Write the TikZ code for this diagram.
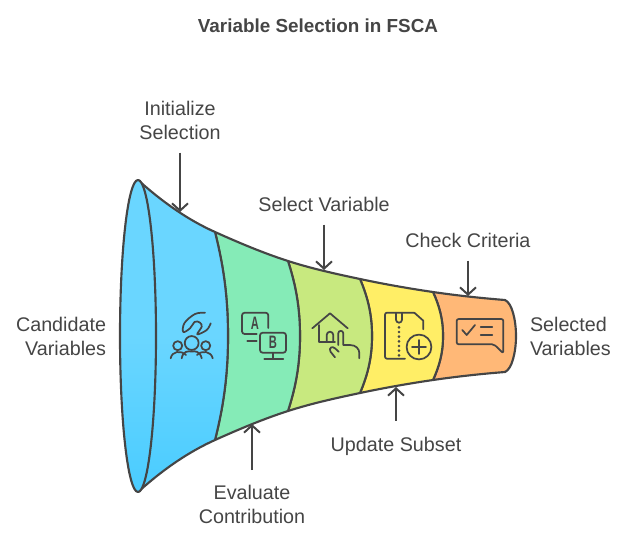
\documentclass[tikz,border=0pt]{standalone}
\usepackage{fontspec}
\setmainfont{Liberation Sans}
\usetikzlibrary{arrows.meta}
\definecolor{ink}{HTML}{454545}
\definecolor{blueA}{HTML}{6AD6FF}
\definecolor{blueB}{HTML}{4ACCFF}
\definecolor{segB}{HTML}{85EBB7}
\definecolor{segC}{HTML}{C8E97F}
\definecolor{segD}{HTML}{FFEE66}
\definecolor{segE}{HTML}{FFB877}
\tikzset{
  seg/.style={draw=ink,line width=1.6pt,line join=round},
  lab/.style={text=ink,font=\fontsize{14.8pt}{18pt}\selectfont,inner sep=0pt,outer sep=0pt},
  ttl/.style={text=ink,font=\fontsize{14.15pt}{18pt}\selectfont\bfseries,inner sep=0pt},
  con/.style={draw=ink,line width=1.5pt,-{Straight Barb[length=5.5pt,width=12pt,line width=1.5pt]}},
  ico/.style={draw=ink,line width=1.3pt,line cap=round,line join=round},
  glyph/.style={text=ink,font=\fontsize{13.5pt}{13.5pt}\selectfont\bfseries,inner sep=0pt}
}
\begin{document}
\begin{tikzpicture}[x=0.75pt,y=-0.75pt]
\useasboundingbox (0,0) rectangle (636,540);
% funnel, right to left
\path[seg,fill=segE] (433,292) .. controls (457,295.5) and (481,298.1) .. (505,300)
  .. controls (512,303) and (516,320) .. (516,336)
  .. controls (516,352) and (512,369) .. (505,372)
  .. controls (481,373.9) and (457,376.5) .. (433,380)
  .. controls (439,366.8) and (443,353.6) .. (443,336)
  .. controls (443,318.4) and (439,305.2) .. (433,292) -- cycle;
\path[seg,fill=segD] (360,279) .. controls (384,284.1) and (409,288.5) .. (433,292)
  .. controls (439,305.2) and (443,318.4) .. (443,336)
  .. controls (443,353.6) and (439,366.8) .. (433,380)
  .. controls (409,383.5) and (384,387.9) .. (360,393)
  .. controls (367.2,375.9) and (372,358.8) .. (372,336)
  .. controls (372,313.2) and (367.2,296.1) .. (360,279) -- cycle;
\path[seg,fill=segC] (288,261) .. controls (312,268.7) and (336,273.9) .. (360,279)
  .. controls (367.2,296.1) and (372,313.2) .. (372,336)
  .. controls (372,358.8) and (367.2,375.9) .. (360,393)
  .. controls (336,398.1) and (312,403.3) .. (288,411)
  .. controls (295.2,388.5) and (300,366) .. (300,336)
  .. controls (300,306) and (295.2,283.5) .. (288,261) -- cycle;
\path[seg,fill=segB] (215,232) .. controls (239,242.8) and (264,253.3) .. (288,261)
  .. controls (295.2,283.5) and (300,306) .. (300,336)
  .. controls (300,366) and (295.2,388.5) .. (288,411)
  .. controls (264,418.7) and (239,429.2) .. (215,440)
  .. controls (222.8,408.8) and (228,377.6) .. (228,336)
  .. controls (228,294.4) and (222.8,263.2) .. (215,232) -- cycle;
\path[seg,top color=blueA,bottom color=blueB,middle color=blueA] (138,180)
  .. controls (164,203.4) and (189,220.3) .. (215,232)
  .. controls (222.8,263.2) and (228,294.4) .. (228,336)
  .. controls (228,377.6) and (222.8,408.8) .. (215,440)
  .. controls (189,451.7) and (164,468.6) .. (138,492) -- cycle;
\path[seg,top color=blueA,bottom color=blueB,middle color=blueA] (138,336) ellipse [x radius=18,y radius=156];
% labels
\node[ttl] (title) at (318,25.5) {Variable Selection in FSCA};
\node[lab,align=center] (init) at (180,120) {Initialize\\Selection};
\node[lab] (selvar) at (324,204) {Select Variable};
\node[lab] (check) at (468,240) {Check Criteria};
\node[lab] (update) at (396,446) {Update Subset};
\node[lab,align=center] (eval) at (252,504) {Evaluate\\Contribution};
\node[lab,align=right,anchor=east] (cand) at (106,336) {Candidate\\Variables};
\node[lab,align=left,anchor=west] (sel) at (530,336) {Selected\\Variables};
% connector ends on the funnel
\coordinate (tipA) at (180,212);
\coordinate (tipB) at (324,270);
\coordinate (tipC) at (468,296);
\coordinate (tipD) at (396,387);
\coordinate (tipE) at (252,424);
\draw[con,shorten <=10pt] (init.south) -- (tipA);
\draw[con,shorten <=10pt] (selvar.south) -- (tipB);
\draw[con,shorten <=10pt] (check.south) -- (tipC);
\draw[con,shorten <=12pt] (update.north) -- (tipD);
\draw[con,shorten <=11pt] (eval.north) -- (tipE);
% icon 1: people and squiggle
\draw[ico] (191.7,343) circle (5.2pt);
\draw[ico] (177.7,345.7) circle (3.4pt);
\draw[ico] (205.7,345.7) circle (3.4pt);
\draw[ico] (181.7,358.3) .. controls (183,351) and (188,351) .. (191.7,351.5) .. controls (195,351) and (200,351) .. (201.7,358.3);
\draw[ico] (170.7,358.3) .. controls (172,351) and (181,350) .. (186,355);
\draw[ico] (212.7,358.3) .. controls (211,351) and (202,350) .. (197,355);
\draw[ico] plot[smooth,tension=.6] coordinates {(205,312.7) (195,314) (184.5,323) (183.3,332) (190,328.3) (195,321.7) (200,322.7) (201.7,326.7) (197.3,334.3) (206.7,330) (210.7,323.3)};
% icon 2: screens
\draw[ico,rounded corners=2pt] (268.3,328) -- (268.3,312.7) -- (242,312.7) -- (242,334) -- (256.7,334);
\draw[ico] (247.3,340.7) -- (256.7,340.7);
\draw[ico,rounded corners=2pt] (260,332.7) rectangle (286,352.7);
\draw[ico] (273,352.7) -- (273,359) (264.3,359) -- (283.3,359);
\node[glyph] (letA) at (255,323) {\scalebox{.62}[1]{A}};
\node[glyph] (letB) at (273,342.7) {\scalebox{.62}[1]{B}};
% icon 3: house and hand
\draw[ico] (312.3,328.3) -- (330,313.3) -- (347.7,328.3);
\draw[ico] (319,325) -- (319,341.7) -- (335,341.7);
\draw[ico] (326.7,341.7) -- (326.7,335) arc[start angle=180,end angle=360,x radius=3.3,y radius=3.3] -- (333.3,341.7);
\draw[ico] (338.3,345) -- (338.3,333.3) arc[start angle=180,end angle=360,x radius=2.5,y radius=2.5] -- (343.3,345) -- (350,345) .. controls (356,345) and (359.3,349) .. (359.3,353) -- (359.3,358.3);
\draw[ico] (335,357.3) -- (330.5,351.7) .. controls (328.5,348) and (332,345.5) .. (335,348.3) -- (338.7,351.7);
% icon 4: zipped file with plus
\draw[ico,rounded corners=1.5pt] (405,358.7) -- (385,358.7) -- (385,312.7) -- (414.3,312.7);
\draw[ico] (414.3,312.7) -- (423.3,320.7) -- (423.3,329.3);
\draw[ico] (396,312.7) -- (396,319.7) arc[start angle=180,end angle=360,x radius=3,y radius=-3] -- (402,312.7);
\foreach \yy in {327.3,332,336.7,341.3,346,350.7,355.3}{\fill[ink] (399,\yy) circle (1.1pt);}
\draw[ico] (419,347) circle (9.3pt);
\draw[ico] (412,347) -- (426,347) (419,340) -- (419,354);
% icon 5: speech bubble
\draw[ico,rounded corners=1.5pt] (494,344.3) -- (456.7,344.3) -- (456.7,319) -- (503.3,319) -- (503.3,353.3) -- cycle;
\draw[ico] (462.3,330) -- (466.7,335) -- (475,325);
\draw[ico] (480.7,326.7) -- (492.3,326.7) (480.7,335) -- (492.3,335);
\end{tikzpicture}
\end{document}
